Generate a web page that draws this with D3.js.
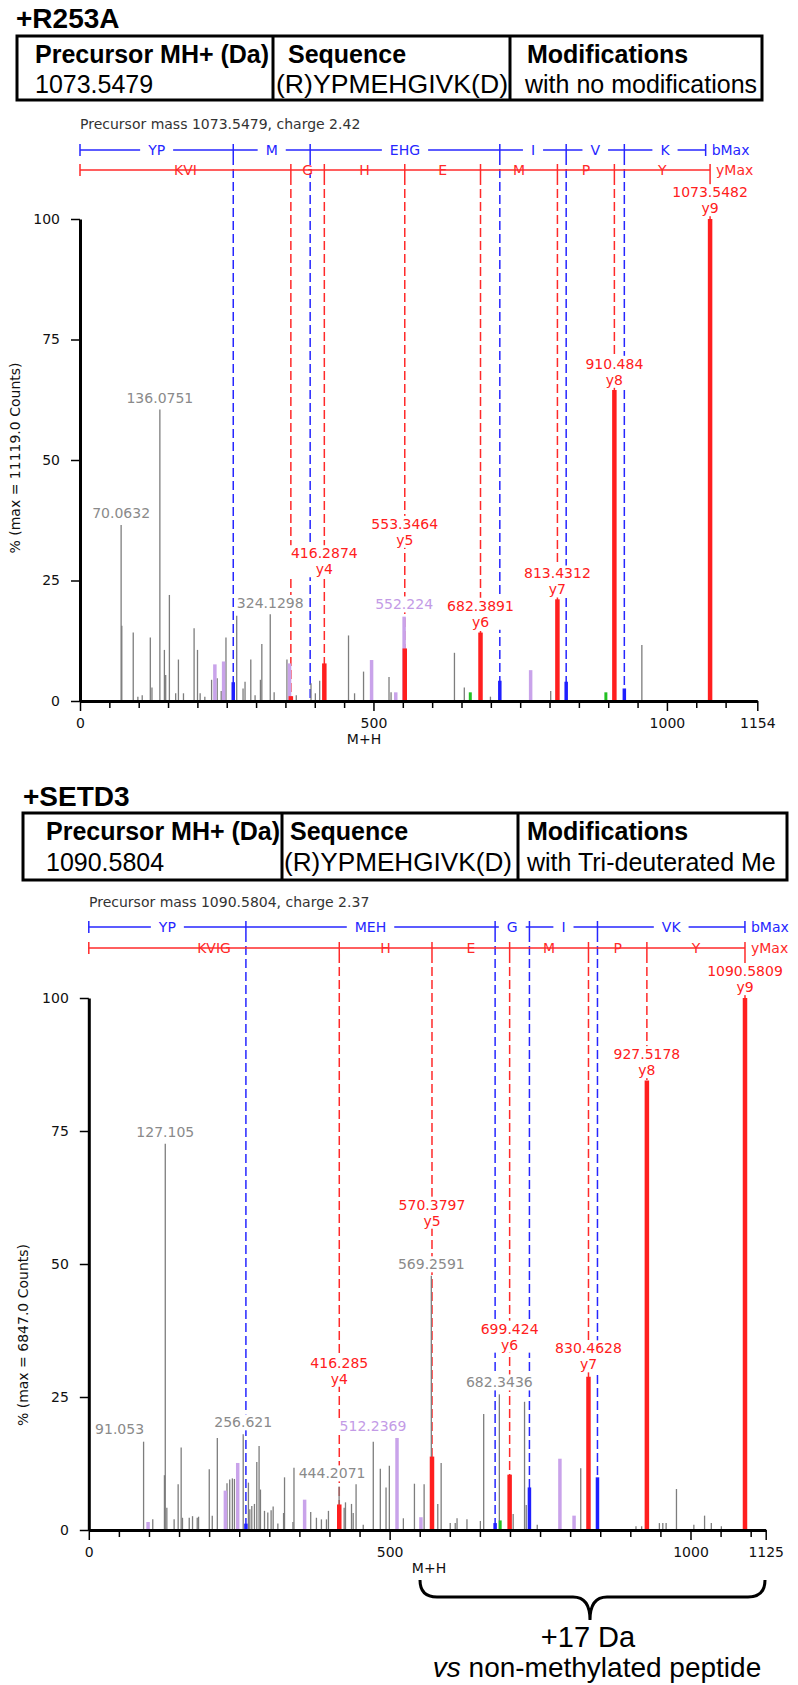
<!DOCTYPE html>
<html>
<head>
<meta charset="utf-8">
<script src="https://cdnjs.cloudflare.com/ajax/libs/d3/7.8.5/d3.min.js"></script>
<style>
  body { margin: 0; background: #fff; }
  svg { display: block; }
  .tbl { font-family: "Liberation Sans", Arial, sans-serif; }
  .spec { font-family: "DejaVu Sans", Verdana, sans-serif; font-size: 14px; }
</style>
</head>
<body>
<div id="chart"></div>
<script>
// ---------- data: +R253A ----------
var topTitle = "+R253A";
var topHeads = ["Precursor MH+ (Da)", "Sequence", "Modifications"];
var topValues = ["1073.5479", "(R)YPMEHGIVK(D)", "with no modifications"];
var topPrecursor = "Precursor mass 1073.5479, charge 2.42";
var topYTitle = "% (max = 11119.0 Counts)";
var topXMax = 1154;
var topXLabels = [0, 500, 1000, 1154];
var topBCuts = [0, 261.12, 392.16, 715.29, 828.37, 927.44, 1066];
var topBNames = ["YP", "M", "EHG", "I", "V", "K"];
var topYCuts = [0, 359.27, 416.29, 553.35, 682.39, 813.43, 910.48, 1073.55];
var topYNames = ["KVI", "G", "H", "E", "M", "P", "Y"];

// [m/z, % of max]
var topGray = [[70.06,36.5],[71.2,15.6],[90.7,14.2],[98.6,0.9],[106,1.2],[119.8,13.2],[122.6,2.8],
  [136.08,60.5],[143.8,10.6],[146,5.4],[152.3,22],[163,1.6],[167.7,8.6],[176.3,1.6],[194.4,15.1],
  [200.2,10.6],[204.7,1.6],[212.7,0.9],[224.2,4.4],[233.8,4.7],[240.6,2.1],[248.7,13.2],[267,17.7],
  [277.8,2.6],[281.2,4],[291,8.6],[298.3,1.2],[307.4,4.4],[309.8,11.8],[324.13,18],[330.8,1.8],
  [352.6,8.6],[368.5,1.2],[393.6,3.7],[401,1.6],[408.4,4.2],[457.5,13.6],[467.8,1.6],[483.1,6.1],
  [526.5,5],[530,1.8],[638,10],[654.8,2.8],[699.3,0.9],[802,2.1],[957.3,11.6]];
var topPurple = [[229.8,7.6],[244.7,8.2],[357,7.8],[496.8,8.5],[538,1.8],[552.22,17.5],[767.8,6.4]];
var topBlue = [[261.12,3.9],[715.29,4.2],[828.37,4.0],[927.44,2.6]];
var topGreen = [[665,1.8],[896,1.8]];
var topRed = [[359.27,1.0],[416.29,7.8],[553.35,10.9],[682.39,14.2],[813.43,21.1],[910.48,64.5],[1073.55,100]];

// peak annotations: at = % height of the last text line
var topLabels = [
  {mz: 70.06, text: ["70.0632"], kind: "gray", at: 38.0},
  {mz: 136.08, text: ["136.0751"], kind: "gray", at: 61.8},
  {mz: 324.13, text: ["324.1298"], kind: "gray", at: 19.3},
  {mz: 416.29, text: ["416.2874", "y4"], kind: "red", at: 26.3},
  {mz: 552.22, text: ["552.224"], kind: "purple", at: 19.0},
  {mz: 553.35, text: ["553.3464", "y5"], kind: "red", at: 32.4},
  {mz: 682.39, text: ["682.3891", "y6"], kind: "red", at: 15.4},
  {mz: 813.43, text: ["813.4312", "y7"], kind: "red", at: 22.1},
  {mz: 910.48, text: ["910.484", "y8"], kind: "red", at: 65.6},
  {mz: 1073.55, text: ["1073.5482", "y9"], kind: "red", at: 101.2}
];

// ---------- data: +SETD3 ----------
var botTitle = "+SETD3";
var botHeads = ["Precursor MH+ (Da)", "Sequence", "Modifications"];
var botValues = ["1090.5804", "(R)YPMEHGIVK(D)", "with Tri-deuterated Me"];
var botPrecursor = "Precursor mass 1090.5804, charge 2.37";
var botYTitle = "% (max = 6847.0 Counts)";
var botXMax = 1125;
var botXLabels = [0, 500, 1000, 1125];
var botBCuts = [0, 261.12, 675.30, 732.32, 845.40, 1090.5];
var botBNames = ["YP", "MEH", "G", "I", "VK"];
var botYCuts = [0, 416.29, 570.38, 699.42, 830.46, 927.52, 1090.58];
var botYNames = ["KVIG", "H", "E", "M", "P", "Y"];

var botGray = [[91.05,16.6],[106.3,2.0],[125.7,10.3],[127.1,72.6],[129.7,4.2],[141.8,2.0],[148.5,8.6],
  [153.5,15.5],[155.7,2.3],[166.9,2.3],[172.4,2.6],[180.2,2.3],[182.4,2.5],[200.2,11.4],[205.2,2.7],
  [213.6,17.3],[229.7,8.8],[234.2,9.5],[238.6,9.7],[242,9.6],[256.62,18],[265.3,8.9],[267.6,3.9],
  [270.9,4.5],[275.3,4.9],[279.2,12.8],[283,15.8],[285.3,7.6],[292,3.6],[297.5,3.3],[303,3.7],
  [306.4,4.4],[314.2,1.2],[323.7,3.2],[325.3,9.9],[339.3,1.5],[341,11.7],[368.8,3.4],[378.3,2.3],
  [386.6,2],[395,2],[398.3,3.6],[416,8.2],[424.4,4.2],[426.6,5.2],[436.6,4.9],[439.4,3.2],
  [444.21,8.6],[456.1,1],[472.8,16.6],[484.5,11.5],[494,8],[499.5,12.1],[511.7,1.5],[522.8,2.2],
  [541.2,8.7],[557.3,8.6],[569.26,47.8],[580,4.9],[585.6,12.6],[600.7,1.3],[609,1.3],[612,2.2],
  [628.5,2],[650.8,1.7],[656.3,21.8],[682.34,25.5],[705.3,3],[724.2,24.1],[727,4.7],[733,2.7],
  [745.3,1],[817.6,11.6],[830,2],[909.4,0.7],[918.8,0.7],[948.3,1.3],[954,1.3],[959.5,1.3],
  [976.7,7.7],[1005.6,1],[1023.4,2.7],[1034.6,1.3],[1051.3,0.7],[1089,6.5]];
var botPurple = [[98.5,1.5],[227,7.4],[247.5,12.6],[358.7,5.7],[512.24,17.3],[552,2.4],[783,13.4],[806.5,2.7]];
var botBlue = [[261.12,1.2],[675.3,1.3],[732.32,8.0],[845.4,9.9]];
var botGreen = [[683.7,1.8]];
var botRed = [[416.29,4.8],[570.38,13.8],[699.42,10.4],[830.46,28.8],[927.52,84.5],[1090.58,100]];

var botLabels = [
  {mz: 91.05, text: ["91.053"], kind: "gray", at: 18.0, dx: -24},
  {mz: 127.1, text: ["127.105"], kind: "gray", at: 73.8},
  {mz: 256.62, text: ["256.621"], kind: "gray", at: 19.3},
  {mz: 444.21, text: ["444.2071"], kind: "gray", at: 9.7, dx: -24},
  {mz: 416.29, text: ["416.285", "y4"], kind: "red", at: 27.5},
  {mz: 512.24, text: ["512.2369"], kind: "purple", at: 18.6, dx: -24},
  {mz: 569.26, text: ["569.2591"], kind: "gray", at: 49.0},
  {mz: 570.38, text: ["570.3797", "y5"], kind: "red", at: 57.2},
  {mz: 682.34, text: ["682.3436"], kind: "gray", at: 26.8},
  {mz: 699.42, text: ["699.424", "y6"], kind: "red", at: 33.9},
  {mz: 830.46, text: ["830.4628", "y7"], kind: "red", at: 30.2},
  {mz: 927.52, text: ["927.5178", "y8"], kind: "red", at: 85.5},
  {mz: 1090.58, text: ["1090.5809", "y9"], kind: "red", at: 101.1}
];

var noteLines = ["+17 Da", "non-methylated peptide"];

// ---------- styles ----------
var peakColor = {gray: "#7d7d7d", purple: "#c9a3ea", blue: "#1f1fff", green: "#22c022", red: "#ff1f1f"};
var peakWidth = {gray: 1.3, purple: 3.5, blue: 3.5, green: 3, red: 4.5};
var textColor = {gray: "#8a8a8a", purple: "#c39be6", red: "#ff2020"};
var ladderBlue = "#2626ff", ladderRed = "#ff2a2a";

var svg = d3.select("#chart").append("svg")
  .attr("width", 798)
  .attr("height", 1685);

svg.append("rect").attr("width", 798).attr("height", 1685).attr("fill", "#fff");

function drawPanel(p, L) {
  var x = d3.scaleLinear().domain([0, p.xMax]).range(L.xr);
  var y = d3.scaleLinear().domain([0, 100]).range(L.yr);
  var g = svg.append("g");

  // title + table
  g.append("text").attr("class", "tbl")
    .attr("x", L.titleX).attr("y", L.titleY)
    .attr("font-size", 28).attr("font-weight", "bold")
    .text(p.title);

  g.append("rect")
    .attr("x", L.box[0]).attr("y", L.box[1])
    .attr("width", L.box[2] - L.box[0]).attr("height", L.box[3] - L.box[1])
    .attr("fill", "none").attr("stroke", "#000").attr("stroke-width", 3);
  L.cols.forEach(function(c) {
    g.append("line").attr("x1", c).attr("x2", c).attr("y1", L.box[1]).attr("y2", L.box[3])
      .attr("stroke", "#000").attr("stroke-width", 3);
  });
  p.heads.forEach(function(h, i) {
    g.append("text").attr("class", "tbl").attr("x", L.headX[i]).attr("y", L.headY)
      .attr("font-size", 25).attr("font-weight", "bold").text(h);
  });
  p.values.forEach(function(v, i) {
    var t = g.append("text").attr("class", "tbl").attr("x", L.valX[i]).attr("y", L.valY)
      .attr("font-size", 25).text(v);
    // the sequence fills its cell from border to border
    if (i === 1) t.attr("textLength", L.seqW).attr("lengthAdjust", "spacingAndGlyphs");
  });

  g.append("text").attr("class", "spec").attr("x", L.precX).attr("y", L.precY)
    .attr("fill", "#333").text(p.precursor);

  var gDash = g.append("g"), gLad = g.append("g"), gBg = g.append("g"),
      gPeak = g.append("g"), gAxis = g.append("g"), gTxt = g.append("g");

  // dashed fragment lines
  p.bCuts.slice(1, -1).forEach(function(c) {
    gDash.append("line").attr("x1", x(c)).attr("x2", x(c))
      .attr("y1", L.bY + 6).attr("y2", y(0))
      .attr("stroke", ladderBlue).attr("stroke-width", 1.5).attr("stroke-dasharray", "9,4");
  });
  p.yCuts.slice(1).forEach(function(c) {
    gDash.append("line").attr("x1", x(c)).attr("x2", x(c))
      .attr("y1", L.rY + 6).attr("y2", y(0))
      .attr("stroke", ladderRed).attr("stroke-width", 1.5).attr("stroke-dasharray", "9,4");
  });

  // fragment ladders
  function ladder(cuts, names, yy, col, endName) {
    gLad.append("line").attr("x1", x(cuts[0])).attr("x2", x(cuts[cuts.length - 1]))
      .attr("y1", yy).attr("y2", yy).attr("stroke", col).attr("stroke-width", 1.5);
    cuts.forEach(function(c) {
      gLad.append("line").attr("x1", x(c)).attr("x2", x(c)).attr("y1", yy - 6).attr("y2", yy + 6)
        .attr("stroke", col).attr("stroke-width", 1.5);
    });
    names.forEach(function(n, i) {
      var cx = (x(cuts[i]) + x(cuts[i + 1])) / 2;
      var t = gLad.append("text").attr("class", "spec").attr("x", cx).attr("y", yy + 5)
        .attr("text-anchor", "middle").attr("fill", col).text(n);
      var w = t.node().getComputedTextLength();
      gLad.insert("rect", "text").attr("x", cx - w / 2 - 8).attr("y", yy - 3)
        .attr("width", w + 16).attr("height", 6).attr("fill", "#fff");
    });
    gLad.append("text").attr("class", "spec").attr("x", x(cuts[cuts.length - 1]) + 6).attr("y", yy + 5)
      .attr("fill", col).text(endName);
  }
  ladder(p.bCuts, p.bNames, L.bY, ladderBlue, "bMax");
  ladder(p.yCuts, p.yNames, L.rY, ladderRed, "yMax");

  // peak annotations (text first so backgrounds can be sized)
  p.labels.forEach(function(l) {
    var cx = x(l.mz) + (l.dx || 0);
    var n = l.text.length;
    var t = gTxt.append("text").attr("class", "spec").attr("text-anchor", "middle")
      .attr("fill", textColor[l.kind]);
    l.text.forEach(function(s, i) {
      t.append("tspan").attr("x", cx).attr("y", y(l.at) - (n - 1 - i) * 16).text(s);
    });
    var b = t.node().getBBox();
    gBg.append("rect").attr("x", b.x - 2).attr("y", b.y).attr("width", b.width + 4)
      .attr("height", b.height).attr("fill", "#fff");
  });

  // peaks
  [["gray", p.gray], ["purple", p.purple], ["green", p.green], ["blue", p.blue], ["red", p.red]]
    .forEach(function(s) {
      gPeak.selectAll(null).data(s[1]).enter().append("line")
        .attr("x1", d => x(d[0])).attr("x2", d => x(d[0]))
        .attr("y1", y(0)).attr("y2", d => y(d[1]))
        .attr("stroke", peakColor[s[0]]).attr("stroke-width", peakWidth[s[0]]);
    });

  // axes
  var yAxis = d3.axisLeft(y).tickValues([0, 25, 50, 75, 100])
    .tickSize(9).tickPadding(11).tickSizeOuter(0);
  var ya = gAxis.append("g").attr("transform", `translate(${L.xr[0]},0)`).call(yAxis);

  var xTicks = d3.range(0, p.xMax - 10, 50).concat([p.xMax]);
  var xAxis = d3.axisBottom(x).tickValues(xTicks).tickSize(7).tickPadding(10).tickSizeOuter(0)
    .tickFormat(d => p.xLabels.indexOf(d) >= 0 ? d : "");
  var xa = gAxis.append("g").attr("transform", `translate(0,${L.yr[0]})`).call(xAxis);
  xa.selectAll(".tick line").attr("y2", d => p.xLabels.indexOf(d) >= 0 ? 10 : 7);

  [ya, xa].forEach(function(a) {
    a.select(".domain").attr("stroke-width", 3);
    a.selectAll(".tick line").attr("stroke-width", 1.5);
    a.selectAll(".tick text").attr("font-family", "DejaVu Sans, Verdana, sans-serif")
      .attr("font-size", 14).attr("fill", "#111");
  });

  g.append("text").attr("class", "spec")
    .attr("transform", `translate(${L.yLabX},${L.yLabY}) rotate(-90)`)
    .attr("text-anchor", "middle").attr("fill", "#111").text(p.yTitle);

  g.append("text").attr("class", "spec").attr("x", L.mhX).attr("y", L.yr[0] + 43)
    .attr("text-anchor", "middle").attr("fill", "#111").text("M+H");
}

drawPanel({
  title: topTitle, heads: topHeads, values: topValues, precursor: topPrecursor, yTitle: topYTitle,
  xMax: topXMax, xLabels: topXLabels, bCuts: topBCuts, bNames: topBNames, yCuts: topYCuts, yNames: topYNames,
  gray: topGray, purple: topPurple, blue: topBlue, green: topGreen, red: topRed, labels: topLabels
}, {
  titleX: 16, titleY: 28, box: [17, 36, 762, 100], cols: [273, 510],
  headX: [35, 288, 527], valX: [35, 276, 525], seqW: 232, headY: 63, valY: 93,
  precX: 80, precY: 129, bY: 150, rY: 170, xr: [80, 757.3], yr: [701, 219],
  yLabX: 20, yLabY: 458, mhX: 364
});

drawPanel({
  title: botTitle, heads: botHeads, values: botValues, precursor: botPrecursor, yTitle: botYTitle,
  xMax: botXMax, xLabels: botXLabels, bCuts: botBCuts, bNames: botBNames, yCuts: botYCuts, yNames: botYNames,
  gray: botGray, purple: botPurple, blue: botBlue, green: botGreen, red: botRed, labels: botLabels
}, {
  titleX: 23, titleY: 806, box: [23, 813, 787, 880], cols: [282, 518],
  headX: [46, 290, 527], valX: [46, 284, 527], seqW: 228, headY: 840, valY: 871,
  precX: 89, precY: 907, bY: 927, rY: 948, xr: [88.8, 765.7], yr: [1530, 998],
  yLabX: 28, yLabY: 1335, mhX: 429
});

// brace and note under the bottom spectrum
svg.append("path")
  .attr("d", "M420,1580 Q420,1597 437,1597 L573,1597 Q590,1597 590,1620 Q590,1597 607,1597 L748,1597 Q765,1597 765,1580")
  .attr("fill", "none").attr("stroke", "#000").attr("stroke-width", 3);

svg.append("text").attr("class", "tbl").attr("x", 588).attr("y", 1647)
  .attr("text-anchor", "middle").attr("font-size", 29).text(noteLines[0]);

var note2 = svg.append("text").attr("class", "tbl").attr("x", 597).attr("y", 1677)
  .attr("text-anchor", "middle").attr("font-size", 28);
note2.append("tspan").attr("font-style", "italic").text("vs");
note2.append("tspan").text(" " + noteLines[1]);
</script>
</body>
</html>
